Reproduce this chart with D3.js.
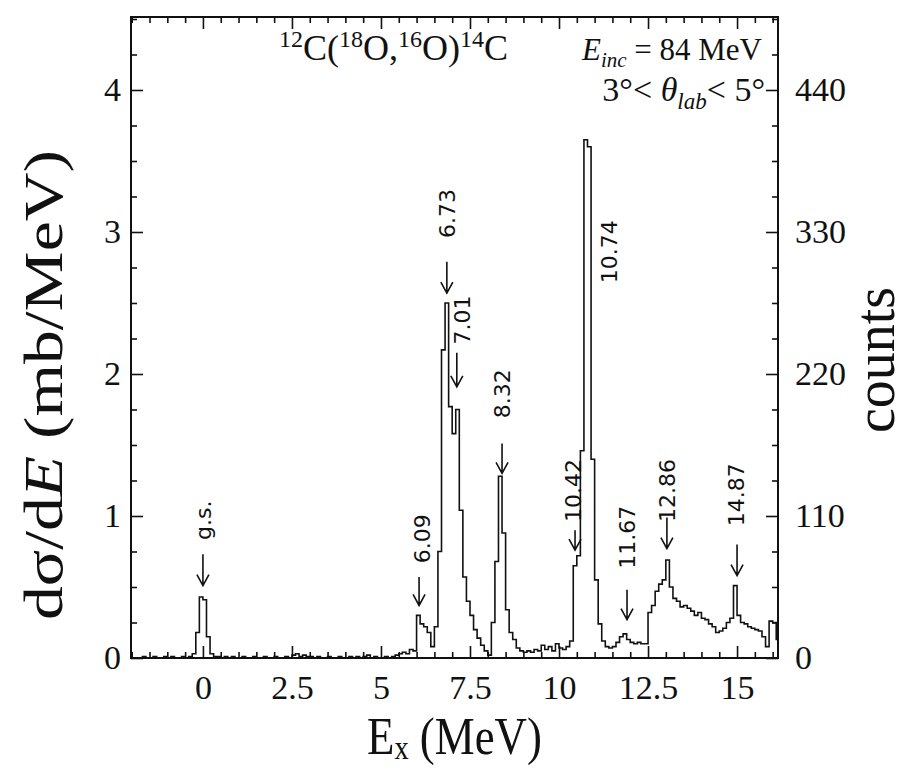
<!DOCTYPE html>
<html>
<head>
<meta charset="utf-8">
<script src="https://cdn.jsdelivr.net/npm/d3@7"></script>
<style>
  body { margin: 0; background: #fff; }
  svg { display: block; }
  .tick text { font-family: "Liberation Serif", "Times New Roman", serif; font-size: 34px; fill: #111; }
  .tick line { stroke: #111; stroke-width: 1.6; }
</style>
</head>
<body>
<svg width="908" height="769"></svg>
<script>
// histogram: bins of 0.1 MeV starting at -2.0 MeV, values in mb/MeV
const binLow = -2.0;
const binWidth = 0.1;
const dsigma = [
  // -2.0 .. -1.1
  0, 0, 0, 0.01, 0, 0, 0.01, 0, 0, 0.01,
  // -1.0 .. -0.1
  0, 0.01, 0, 0, 0.01, 0, 0.01, 0.03, 0.18, 0.43,
  // 0.0 .. 0.9
  0.41, 0.15, 0.03, 0.01, 0.01, 0, 0.01, 0, 0.01, 0,
  // 1.0 .. 1.9
  0, 0.01, 0, 0, 0.01, 0, 0, 0.01, 0, 0,
  // 2.0 .. 2.9
  0.01, 0, 0, 0.01, 0, 0.02, 0.03, 0.01, 0.02, 0.01,
  // 3.0 .. 3.9
  0.01, 0, 0.01, 0, 0, 0.01, 0, 0, 0.01, 0,
  // 4.0 .. 4.9
  0, 0.01, 0, 0.01, 0, 0.01, 0.02, 0, 0.01, 0,
  // 5.0 .. 5.9
  0, 0.01, 0, 0.01, 0.02, 0.03, 0.04, 0.03, 0.06, 0.05,
  // 6.0 .. 6.9
  0.30, 0.24, 0.22, 0.18, 0.08, 0.22, 0.75, 2.17, 2.50, 1.77,
  // 7.0 .. 7.9
  1.58, 1.75, 1.04, 0.57, 0.40, 0.30, 0.20, 0.14, 0.09, 0.05,
  // 8.0 .. 8.9
  0.02, 0.25, 0.68, 1.28, 0.88, 0.34, 0.18, 0.13, 0.07, 0.05,
  // 9.0 .. 9.9
  0.04, 0.05, 0.04, 0.06, 0.05, 0.09, 0.06, 0.08, 0.05, 0.10,
  // 10.0 .. 10.9
  0.07, 0.06, 0.08, 0.12, 0.65, 0.72, 1.46, 3.65, 3.60, 1.40,
  // 11.0 .. 11.9
  0.55, 0.24, 0.12, 0.08, 0.07, 0.08, 0.11, 0.15, 0.17, 0.13,
  // 12.0 .. 12.9
  0.11, 0.10, 0.11, 0.10, 0.10, 0.32, 0.37, 0.47, 0.52, 0.55,
  // 13.0 .. 13.9
  0.69, 0.50, 0.42, 0.40, 0.36, 0.37, 0.35, 0.33, 0.30, 0.32,
  // 14.0 .. 14.9
  0.28, 0.27, 0.24, 0.22, 0.18, 0.19, 0.21, 0.25, 0.28, 0.51,
  // 15.0 .. 15.9
  0.30, 0.25, 0.24, 0.22, 0.21, 0.20, 0.19, 0.15, 0.08, 0.26,
  // 16.0 .. 16.1
  0.25, 0.13
];

const xMajor = [0, 2.5, 5, 7.5, 10, 12.5, 15];
const xTickLabels = ["0", "2.5", "5", "7.5", "10", "12.5", "15"];
const yMajor = [0, 1, 2, 3, 4];
const countsMajor = [0, 110, 220, 330, 440];
const countsPerUnit = 110; // counts per mb/MeV

// peak annotations (positions in MeV and mb/MeV)
const peakNames = ["g.s.", "6.09", "6.73", "7.01", "8.32", "10.42", "10.74", "11.67", "12.86", "14.87"];
const labelE    = [0.0,  6.15, 6.85, 7.28, 8.40, 10.40, 11.40, 11.91, 13.03, 14.97];
const labelV    = [0.97, 0.84, 3.13, 2.38, 1.86, 1.18,  2.86,  0.85,  1.18,  1.15];
const arrowE    = [0.0,  6.07, 6.85, 7.13, 8.40, 10.45, null,  11.91, 13.03, 15.00];
const arrowTop  = [0.73, 0.57, 2.79, 2.15, 1.51, 0.90,  null,  0.48,  0.99,  0.80];
const arrowTip  = [0.51, 0.37, 2.57, 1.91, 1.30, 0.76,  null,  0.27,  0.77,  0.58];

const svg = d3.select("svg");
const mLeft = 131, mRight = 778, mTop = 17, mBottom = 658;

const x = d3.scaleLinear().domain([-2.02, 16.15]).range([mLeft, mRight]);
const y = d3.scaleLinear().domain([0, 4.514]).range([mBottom, mTop]);
const yc = d3.scaleLinear().domain([0, 4.514 * countsPerUnit]).range([mBottom, mTop]);

const serif = '"Liberation Serif", "Times New Roman", serif';
const sans = '"DejaVu Sans", Verdana, sans-serif';

// minor tick positions
const xMinor = d3.range(-2, 16.01, 0.5).filter(v => !xMajor.includes(v));
const yMinor = d3.range(0, 4.51, 0.25).filter(v => !yMajor.includes(v));
const cMinor = yMinor.map(v => v * countsPerUnit);

function addAxis(gen, tr) {
  const g = svg.append("g").attr("transform", tr).call(gen);
  g.select(".domain").remove();
  return g;
}

// bottom
addAxis(d3.axisBottom(x).tickValues(xMajor).tickFormat((d, i) => xTickLabels[i])
  .tickSize(-12).tickPadding(17), `translate(0,${mBottom})`);
addAxis(d3.axisBottom(x).tickValues(xMinor).tickFormat("").tickSize(-6), `translate(0,${mBottom})`);
// top
addAxis(d3.axisTop(x).tickValues(xMajor).tickFormat("").tickSize(-12), `translate(0,${mTop})`);
addAxis(d3.axisTop(x).tickValues(xMinor).tickFormat("").tickSize(-6), `translate(0,${mTop})`);
// left
addAxis(d3.axisLeft(y).tickValues(yMajor).tickFormat(d3.format("d"))
  .tickSize(-12).tickPadding(10), `translate(${mLeft},0)`);
addAxis(d3.axisLeft(y).tickValues(yMinor).tickFormat("").tickSize(-6), `translate(${mLeft},0)`);
// right (counts)
addAxis(d3.axisRight(yc).tickValues(countsMajor).tickFormat(d3.format("d"))
  .tickSize(-12).tickPadding(17), `translate(${mRight},0)`);
addAxis(d3.axisRight(yc).tickValues(cMinor).tickFormat("").tickSize(-6), `translate(${mRight},0)`);

// frame
svg.append("rect")
  .attr("x", mLeft).attr("y", mTop)
  .attr("width", mRight - mLeft).attr("height", mBottom - mTop)
  .attr("fill", "none").attr("stroke", "#111").attr("stroke-width", 2);

// histogram
const pts = dsigma.map((v, i) => [binLow + i * binWidth, v]);
pts.push([binLow + dsigma.length * binWidth, dsigma[dsigma.length - 1]]);

svg.append("clipPath").attr("id", "plotclip")
  .append("rect").attr("x", mLeft).attr("y", mTop)
  .attr("width", mRight - mLeft).attr("height", mBottom - mTop);

svg.append("path")
  .datum(pts)
  .attr("clip-path", "url(#plotclip)")
  .attr("fill", "none")
  .attr("stroke", "#111")
  .attr("stroke-width", 1.6)
  .attr("d", d3.line().x(d => x(d[0])).y(d => y(d[1])).curve(d3.curveStepAfter));

// peak labels
peakNames.forEach((name, i) => {
  svg.append("text")
    .attr("transform", `translate(${x(labelE[i])},${y(labelV[i])}) rotate(-90)`)
    .attr("text-anchor", "middle")
    .attr("dy", "0.36em")
    .attr("font-family", sans)
    .attr("font-size", 22)
    .attr("fill", "#111")
    .text(name);
  if (arrowE[i] === null) return;
  const ax = x(arrowE[i]), y0 = y(arrowTop[i]), y1 = y(arrowTip[i]);
  svg.append("path")
    .attr("d", `M${ax},${y0}V${y1}M${ax - 6},${y1 - 11}L${ax},${y1}L${ax + 6},${y1 - 11}`)
    .attr("fill", "none").attr("stroke", "#111").attr("stroke-width", 1.6);
});

// reaction / conditions text
const t1 = svg.append("text")
  .attr("x", 279).attr("y", 60)
  .attr("font-family", serif).attr("font-size", 36).attr("fill", "#111");
[["12", true], ["C(", false], ["18", true], ["O,", false], ["16", true], ["O)", false], ["14", true], ["C", false]]
  .forEach(([s, sup], i, arr) => {
    const prevSup = i > 0 && arr[i - 1][1];
    t1.append("tspan")
      .attr("font-size", sup ? 24 : 36)
      .attr("dy", sup ? -13 : (prevSup ? 13 : 0))
      .text(s);
  });

const t2 = svg.append("text")
  .attr("x", 762).attr("y", 60).attr("text-anchor", "end")
  .attr("font-family", serif).attr("font-size", 31).attr("fill", "#111");
t2.append("tspan").attr("font-style", "italic").text("E");
t2.append("tspan").attr("font-style", "italic").attr("font-size", 21).attr("dy", 7).text("inc");
t2.append("tspan").attr("dy", -7).text(" = 84 MeV");

const t3 = svg.append("text")
  .attr("x", 765).attr("y", 101).attr("text-anchor", "end")
  .attr("font-family", serif).attr("font-size", 34).attr("fill", "#111");
t3.append("tspan").text("3°< ");
t3.append("tspan").attr("font-style", "italic").text("θ");
t3.append("tspan").attr("font-style", "italic").attr("font-size", 23).attr("dy", 8).text("lab");
t3.append("tspan").attr("dy", -8).text("< 5°");

// axis titles
const xt = svg.append("text")
  .attr("font-family", serif).attr("font-size", 52).attr("fill", "#111");
xt.append("tspan").text("E");
xt.append("tspan").attr("font-size", 33).attr("dy", 5).text("x");
xt.append("tspan").attr("dy", -5).text(" (MeV)");
const xw = xt.node().getBBox().width;
xt.attr("transform", `translate(367,754) scale(${175 / xw},1)`);

const yt = svg.append("text")
  .attr("font-family", serif).attr("font-size", 54).attr("fill", "#111")
  .attr("text-anchor", "middle");
yt.append("tspan").text("dσ/d");
yt.append("tspan").attr("font-style", "italic").text("E");
yt.append("tspan").text(" (mb/MeV)");
const yw = yt.node().getBBox().width;
yt.attr("transform", `translate(62,385) rotate(-90) scale(${470 / yw},1)`);

svg.append("text")
  .attr("transform", "translate(894,360) rotate(-90)")
  .attr("text-anchor", "middle")
  .attr("font-family", serif).attr("font-size", 56).attr("fill", "#111")
  .text("counts");
</script>
</body>
</html>
